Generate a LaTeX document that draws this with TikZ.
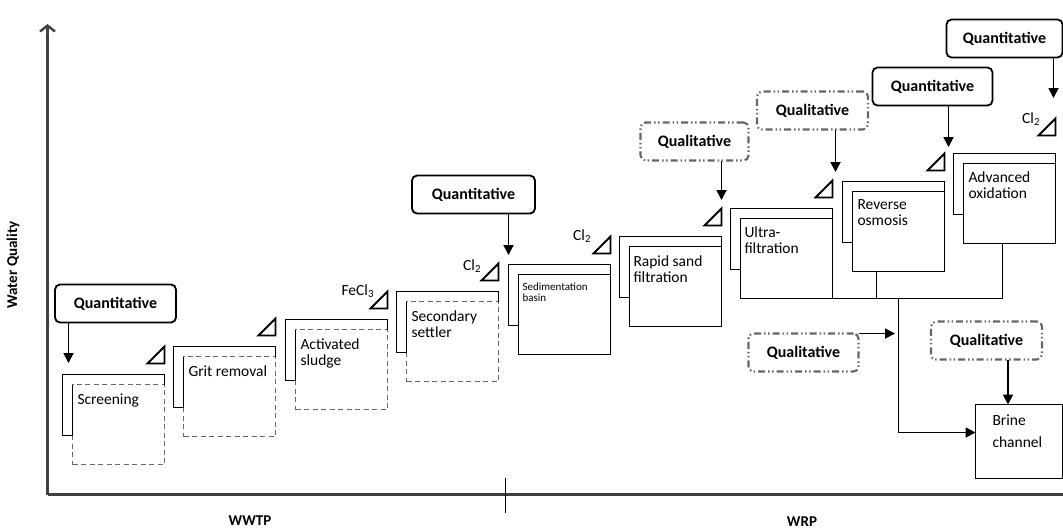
\documentclass[tikz,border=0pt]{standalone}
\usepackage{fontspec}
\setmainfont{Carlito}
\usetikzlibrary{arrows.meta,calc}
\begin{document}
\begin{tikzpicture}[x=1pt,y=-1pt,
  every node/.style={inner sep=0pt, outer sep=0pt},
  quant/.style={draw, line width=1.8pt, rounded corners=5pt, minimum height=38pt, font=\fontsize{16}{18}\selectfont\bfseries},
  qual/.style={draw=black!60, line width=2.1pt, rounded corners=5pt, dash pattern=on 7pt off 3pt on 1.5pt off 2.5pt on 1.5pt off 3pt, minimum height=38pt, font=\fontsize{16}{18}\selectfont\bfseries, text=black},
  dbox/.style={draw=black!60, line width=1.8pt, dash pattern=on 5pt off 3.5pt, minimum width=92pt, minimum height=80pt},
  sbox/.style={draw, line width=1.8pt, fill=white, minimum width=92pt, minimum height=80pt},
  lbl/.style={font=\fontsize{15.5}{16.5}\selectfont, align=left, anchor=north west},
  tab/.style={draw, line width=1.8pt, line join=miter},
  tri/.style={draw, line width=1.8pt, line join=miter},
  ln/.style={line width=1.8pt},
  arr/.style={line width=1.8pt, -{Triangle[length=10pt,width=10pt]}},
  chem/.style={font=\fontsize{15.5}{17}\selectfont, anchor=base east},
  axis/.style={line width=2.2pt, black!75},
  axlbl/.style={font=\fontsize{15}{17}\selectfont\bfseries},
]
\useasboundingbox (0,0) rectangle (1063,531);

% axes
\coordinate (o) at (47.5,494.5);
\coordinate (ytop) at (47.5,24);
\coordinate (xend) at (1063,494.5);
\coordinate (tk1) at (505.5,478);
\coordinate (tk2) at (505.5,513);
\draw[axis, -{Straight Barb[length=6pt,width=15pt,line width=2.4pt]}] (o) -- (ytop);
\draw[axis] (o) -- (xend);
\draw[ln] (tk1) -- (tk2);
\node[axlbl] (wwtp) at (250,521) {WWTP};
\node[axlbl] (wrp) at (802,522) {WRP};
\node[axlbl, rotate=90] (wq) at (13,265) {Water Quality};

% process units
\foreach \i/\st in {1/dbox,2/dbox,3/dbox,4/dbox,5/sbox,6/sbox,7/sbox,8/sbox,9/sbox}{
  \pgfmathsetmacro\xo{round(62+111.4*(\i-1))+0.5}
  \pgfmathsetmacro\yo{round(374-27.6*(\i-1))+0.5}
  \pgfmathsetmacro\g{ifthenelse(\i==9,18,11)}
  \node[\st, anchor=north west] (b\i) at (\xo+10,\yo+10) {};
  \draw[tab] (\xo+102,\yo+10) -- (\xo+102,\yo) -- (\xo,\yo) -- (\xo,\yo+61) -- (\xo+10,\yo+61) -- (\xo+10,\yo+10);
  \draw[tri] (\xo+85,\yo-\g) -- (\xo+102,\yo-\g) -- (\xo+102,\yo-\g-17) -- cycle;
}

% unit labels
\node[lbl] (t1) at ($(b1.north west)+(5,9)$) {Screening};
\node[lbl] (t2) at ($(b2.north west)+(5,9)$) {Grit removal};
\node[lbl] (t3) at ($(b3.north west)+(5,9)$) {Activated\\sludge};
\node[lbl] (t4) at ($(b4.north west)+(5,9)$) {Secondary\\settler};
\node[lbl, font=\fontsize{11}{11.5}\selectfont] (t5) at ($(b5.north west)+(4,8)$) {Sedimentation\\basin};
\node[lbl] (t6) at ($(b6.north west)+(4,9)$) {Rapid sand\\filtration};
\node[lbl] (t7) at ($(b7.north west)+(4,8)$) {Ultra-\\filtration};
\node[lbl] (t8) at ($(b8.north west)+(5,8)$) {Reverse\\osmosis};
\node[lbl] (t9) at ($(b9.north west)+(5,8)$) {Advanced\\oxidation};

% chemicals
\node[chem] (fe) at (374,295) {FeCl\textsubscript{3}};
\node[chem] (cla) at (481,270) {Cl\textsubscript{2}};
\node[chem] (clb) at (591,240) {Cl\textsubscript{2}};
\node[chem] (clc) at (1040,123) {Cl\textsubscript{2}};

% quality boxes
\node[quant, minimum width=121pt] (q1) at (115.5,303.5) {Quantitative};
\node[quant, minimum width=123pt] (q2) at (473.5,194.5) {Quantitative};
\node[qual, minimum width=108pt] (q3) at (694.5,141.5) {Qualitative};
\node[qual, minimum width=111pt] (q4) at (812.5,110.5) {Qualitative};
\node[quant, minimum width=120pt] (q5) at (932.5,86.5) {Quantitative};
\node[quant, minimum width=116pt] (q6) at (1004.5,38.5) {Quantitative};
\node[qual, minimum width=110pt] (q7) at (803.5,352.5) {Qualitative};
\node[qual, minimum width=111pt] (q8) at (986.5,340.5) {Qualitative};

% arrow targets
\coordinate (a1) at (68.5,363);
\coordinate (a2) at (508.5,255);
\coordinate (a3) at (721.5,200);
\coordinate (a4) at (835.5,172);
\coordinate (a5) at (948.5,147);
\coordinate (a6) at (1053.5,98);
\draw[arr] (q1.south -| a1) -- (a1);
\draw[arr] (q2.south -| a2) -- (a2);
\draw[arr] (q3.south -| a3) -- (a3);
\draw[arr] (q4.south -| a4) -- (a4);
\draw[arr] (q5.south -| a5) -- (a5);
\draw[arr] (q6.south -| a6) -- (a6);

% brine channel
\node[draw, line width=1.8pt, anchor=north west, minimum width=87pt, minimum height=74pt] (brine) at (975.5,404.5) {};
\node[lbl, font=\fontsize{15.5}{22}\selectfont] (tb) at ($(brine.north west)+(17,10)$) {Brine\\channel};

% collection lines
\coordinate (jr) at (1002.5,298.5);
\coordinate (jro) at (876.5,298.5);
\coordinate (jm) at (898.5,298.5);
\coordinate (jb) at (898.5,432.5);
\coordinate (qa) at (895,333.5);
\draw[ln] (b7.south east) -- (jr);
\draw[ln] (jro |- b8.south) -- (jro);
\draw[ln] (jr |- b9.south) -- (jr);
\draw[arr, line join=miter] (jm) -- (jb) -- (brine.west |- jb);
\draw[arr] (q7.north east) -- (qa);
\draw[arr] ([xshift=21.5pt]q8.south) -- ([xshift=21.5pt]q8.south |- brine.north);
\end{tikzpicture}
\end{document}
